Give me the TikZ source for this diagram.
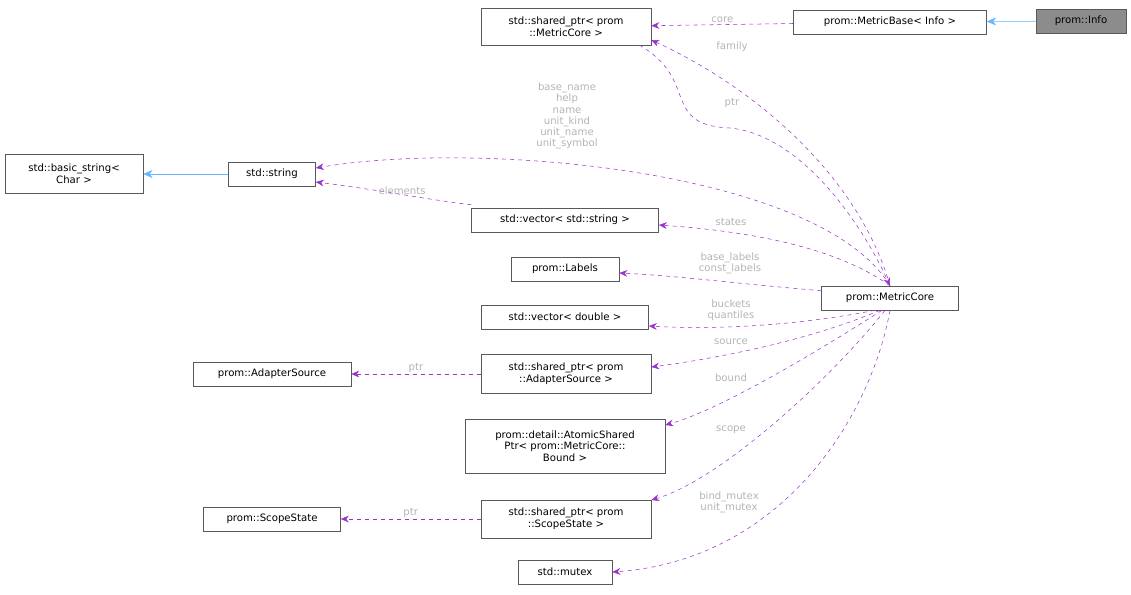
\documentclass[tikz,border=0pt]{standalone}
\usepackage{fontspec}
\setmainfont{DejaVu Sans}
\usetikzlibrary{arrows.meta}
\definecolor{edgepurple}{HTML}{9A32CD}
\definecolor{edgeblue}{HTML}{63B8FF}
\definecolor{lbl}{HTML}{B4B4B4}
\begin{document}
\begin{tikzpicture}[x=0.75pt,y=-0.75pt]
    % settings for the whole picture
    \tikzset{
      box/.style={draw=black!65, thin, fill=white, align=center, inner sep=1pt,
        font=\fontsize{7.6}{8.8}\selectfont},
      use/.style={color=edgepurple, dashed, thin, -{Stealth[length=6pt,width=5pt]}},
      inherit/.style={color=edgeblue, thin, -{Stealth[length=7pt,width=6pt,fill=edgeblue]}},
      lab/.style={text=lbl, align=center, font=\fontsize{7.6}{8.4}\selectfont, inner sep=0pt},
    }
    \useasboundingbox (0,0) rectangle (1131,594);

    % classes
    \node[box, fill=black!45, minimum width=67.5pt, minimum height=18pt] (info) at (1081,21) {prom::Info};
    \node[box, minimum width=144.75pt, minimum height=18pt] (base) at (890,22) {prom::MetricBase\textless{} Info \textgreater};
    \node[box, minimum width=127.5pt, minimum height=28pt] (spcore) at (566,27) {std::shared\_ptr\textless{} prom\\::MetricCore \textgreater};
    \node[box, minimum width=103.5pt, minimum height=29pt] (bstr) at (74,174) {std::basic\_string\textless\\Char \textgreater};
    \node[box, minimum width=65.25pt, minimum height=18pt] (str) at (272,174) {std::string};
    \node[box, minimum width=140.25pt, minimum height=18pt] (vstr) at (565,220) {std::vector\textless{} std::string \textgreater};
    \node[box, minimum width=81pt, minimum height=18pt] (labels) at (565,269) {prom::Labels};
    \node[box, minimum width=125.25pt, minimum height=18pt] (vdbl) at (565,317) {std::vector\textless{} double \textgreater};
    \node[box, minimum width=102.75pt, minimum height=18pt] (core) at (890,298) {prom::MetricCore};
    \node[box, minimum width=118.5pt, minimum height=18pt] (adapter) at (272,374) {prom::AdapterSource};
    \node[box, minimum width=127.5pt, minimum height=29pt] (spadapter) at (566,374) {std::shared\_ptr\textless{} prom\\::AdapterSource \textgreater};
    \node[box, minimum width=150pt, minimum height=40.5pt] (atomic) at (565,446) {prom::detail::AtomicShared\\Ptr\textless{} prom::MetricCore::\\Bound \textgreater};
    \node[box, minimum width=102.75pt, minimum height=18pt] (scope) at (272,519) {prom::ScopeState};
    \node[box, minimum width=127.5pt, minimum height=28.5pt] (spscope) at (566,519) {std::shared\_ptr\textless{} prom\\::ScopeState \textgreater};
    \node[box, minimum width=70.5pt, minimum height=18pt] (mutex) at (565,572) {std::mutex};

    % inheritance
    \draw[inherit] (info) -- (base);
    \draw[inherit] (str) -- (bstr);

    % usage
    \draw[use] (base) -- node[lab, above=1pt] {core} (spcore);
    \draw[use] (core.north) .. controls (860,180) and (760,90) .. (spcore.east |- 0,40);
    \node[lab] (lfamily) at (732,47) {family};
    \draw[use] (spcore.south east |- 0,45) ++(-12,0) coordinate (p0)
      .. controls (700,80) and (660,125) .. (730,128)
      .. controls (800,135) and (860,220) .. (core.north);
    \node[lab] (lptr) at (732,103) {ptr};
    \draw[use] (core.north) .. controls (820,170) and (480,140) .. (str.east |- 0,168);
    \node[lab] (lstr) at (567,116) {base\_name\\help\\name\\unit\_kind\\unit\_name\\unit\_symbol};
    \draw[use] (vstr.north west) ++(0,-3) .. controls (430,200) and (380,190) .. node[lab, above] {elements} (str.east |- 0,182);
    \draw[use] (core.north) .. controls (840,250) and (760,232) .. (vstr.east |- 0,225);
    \node[lab] (lstates) at (731,222) {states};
    \draw[use] (core.north west) ++(0,5) .. controls (720,282) and (680,276) .. (labels.east |- 0,273);
    \node[lab] (llabels) at (730,263) {base\_labels\\const\_labels};
    \draw[use] (core.south) ++(-15,0) .. controls (800,325) and (720,330) .. (vdbl.east |- 0,326);
    \node[lab] (lbuckets) at (731,310) {buckets\\quantiles};
    \draw[use] (core.south) ++(-10,0) .. controls (810,340) and (720,358) .. (spadapter.east |- 0,367);
    \node[lab] (lsource) at (731,342) {source};
    \draw[use] (spadapter.west) -- node[lab, above=1pt] {ptr} (adapter.east);
    \draw[use] (core.south) ++(-8,0) .. controls (820,350) and (720,410) .. (atomic.east |- 0,425);
    \node[lab] (lbound) at (731,378) {bound};
    \draw[use] (core.south) ++(-5,0) .. controls (830,380) and (720,480) .. (spscope.north east |- 0,500);
    \node[lab] (lscope) at (731,430) {scope};
    \draw[use] (spscope.west) -- node[lab, above=1pt] {ptr} (scope.east);
    \draw[use] (core.south) .. controls (870,420) and (780,560) .. (mutex.east);
    \node[lab] (lmutex) at (729,502) {bind\_mutex\\unit\_mutex};
\end{tikzpicture}
\end{document}
